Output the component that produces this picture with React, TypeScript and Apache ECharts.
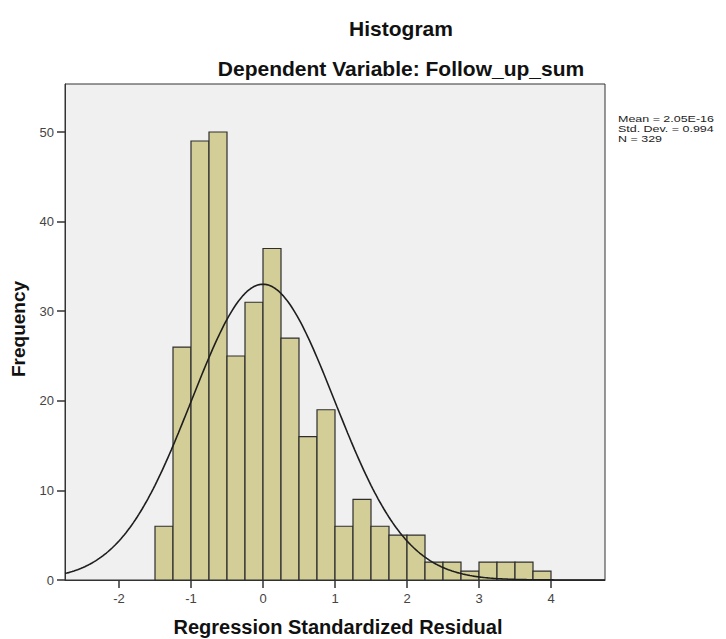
import React, { useEffect, useRef } from "react";
import * as echarts from "echarts";

// Histogram bins (left edges) and frequencies
const BIN_WIDTH = 0.25;
const BIN_STARTS = [
  -1.5, -1.25, -1.0, -0.75, -0.5, -0.25, 0.0, 0.25, 0.5, 0.75, 1.0, 1.25, 1.5,
  1.75, 2.0, 2.25, 2.5, 2.75, 3.0, 3.25, 3.5, 3.75,
];
const COUNTS = [
  6, 26, 49, 50, 25, 31, 37, 27, 16, 19, 6, 9, 6, 5, 5, 2, 2, 1, 2, 2, 2, 1,
];

// Fitted normal curve parameters (from the legend)
const MEAN = 2.05e-16;
const STD_DEV = 0.994;
const N = 329;

const X_TICKS = [-2, -1, 0, 1, 2, 3, 4];
const Y_TICKS = [0, 10, 20, 30, 40, 50];
const X_MIN = -2.75;
const X_MAX = 4.75;
const Y_MAX = 55.36;

const TITLE = "Histogram";
const SUBTITLE = "Dependent Variable: Follow_up_sum";
const X_NAME = "Regression Standardized Residual";
const Y_NAME = "Frequency";
const STATS = ["Mean = 2.05E-16", "Std. Dev. = 0.994", "N = 329"];

function normalCurve(): number[][] {
  const pts: number[][] = [];
  const steps = 300;
  for (let i = 0; i <= steps; i++) {
    const x = X_MIN + ((X_MAX - X_MIN) * i) / steps;
    const z = (x - MEAN) / STD_DEV;
    const y =
      (N * BIN_WIDTH * Math.exp(-0.5 * z * z)) / (STD_DEV * Math.sqrt(2 * Math.PI));
    pts.push([x, y]);
  }
  return pts;
}

export default function App() {
  const ref = useRef<HTMLDivElement>(null);

  useEffect(() => {
    document.body.style.margin = "0";
    if (!ref.current) return;
    const chart = echarts.init(ref.current, undefined, { renderer: "svg" });
    const font = "Liberation Sans, Arial, sans-serif";
    const histData = BIN_STARTS.map((s, i) => [s, s + BIN_WIDTH, COUNTS[i]]);

    chart.setOption({
      animation: false,
      backgroundColor: "#ffffff",
      grid: {
        left: 65,
        top: 84,
        width: 540,
        height: 496,
        show: true,
        backgroundColor: "#f0f0f0",
        borderColor: "#333333",
        borderWidth: 1,
      },
      xAxis: {
        type: "value",
        min: X_MIN,
        max: X_MAX,
        axisLine: { show: true, onZero: false, lineStyle: { color: "#333333", width: 1 } },
        splitLine: { show: false },
        axisTick: {
          show: true,
          customValues: X_TICKS,
          length: 8,
          lineStyle: { color: "#333333", width: 1.5 },
        },
        axisLabel: {
          customValues: X_TICKS,
          margin: 12,
          color: "#444444",
          fontSize: 13,
          fontFamily: font,
        },
      },
      yAxis: {
        type: "value",
        min: 0,
        max: Y_MAX,
        axisLine: { show: true, onZero: false, lineStyle: { color: "#333333", width: 1 } },
        splitLine: { show: false },
        axisTick: {
          show: true,
          customValues: Y_TICKS,
          length: 8,
          lineStyle: { color: "#333333", width: 1.5 },
        },
        axisLabel: {
          customValues: Y_TICKS,
          margin: 11,
          color: "#444444",
          fontSize: 13,
          fontFamily: font,
        },
      },
      series: [
        {
          type: "custom",
          data: histData,
          encode: { x: [0, 1], y: 2 },
          renderItem: (params: any, api: any) => {
            const p0 = api.coord([api.value(0), api.value(2)]);
            const p1 = api.coord([api.value(1), 0]);
            return {
              type: "rect",
              shape: {
                x: p0[0],
                y: p0[1],
                width: p1[0] - p0[0],
                height: p1[1] - p0[1],
              },
              style: { fill: "#d3ce97", stroke: "#2e2e2e", lineWidth: 1.2 },
            };
          },
          z: 2,
        },
        {
          type: "line",
          data: normalCurve(),
          showSymbol: false,
          symbol: "none",
          smooth: false,
          lineStyle: { color: "#1e1e1e", width: 1.6 },
          z: 3,
        },
      ],
      graphic: [
        {
          type: "text",
          x: 401,
          y: 28,
          style: {
            text: TITLE,
            font: `bold 21px ${font}`,
            fill: "#111111",
            textAlign: "center",
            textVerticalAlign: "middle",
            align: "center",
            verticalAlign: "middle",
          },
        },
        {
          type: "text",
          x: 401,
          y: 68,
          style: {
            text: SUBTITLE,
            font: `bold 21px ${font}`,
            fill: "#111111",
            textAlign: "center",
            textVerticalAlign: "middle",
            align: "center",
            verticalAlign: "middle",
          },
        },
        {
          type: "text",
          x: 338,
          y: 627,
          style: {
            text: X_NAME,
            font: `bold 20px ${font}`,
            fill: "#111111",
            textAlign: "center",
            textVerticalAlign: "middle",
            align: "center",
            verticalAlign: "middle",
          },
        },
        {
          type: "text",
          x: 18,
          y: 329,
          rotation: Math.PI / 2,
          style: {
            text: Y_NAME,
            font: `bold 19px ${font}`,
            fill: "#111111",
            textAlign: "center",
            textVerticalAlign: "middle",
            align: "center",
            verticalAlign: "middle",
          },
        },
        {
          type: "text",
          x: 618,
          y: 114,
          scaleX: 1.04,
          scaleY: 0.82,
          style: {
            text: STATS.join("\n"),
            font: `12px ${font}`,
            lineHeight: 12,
            fill: "#222222",
            textAlign: "left",
            textVerticalAlign: "top",
            align: "left",
            verticalAlign: "top",
          },
        },
      ],
    });

    return () => chart.dispose();
  }, []);

  return <div ref={ref} style={{ width: 726, height: 639 }} />;
}
